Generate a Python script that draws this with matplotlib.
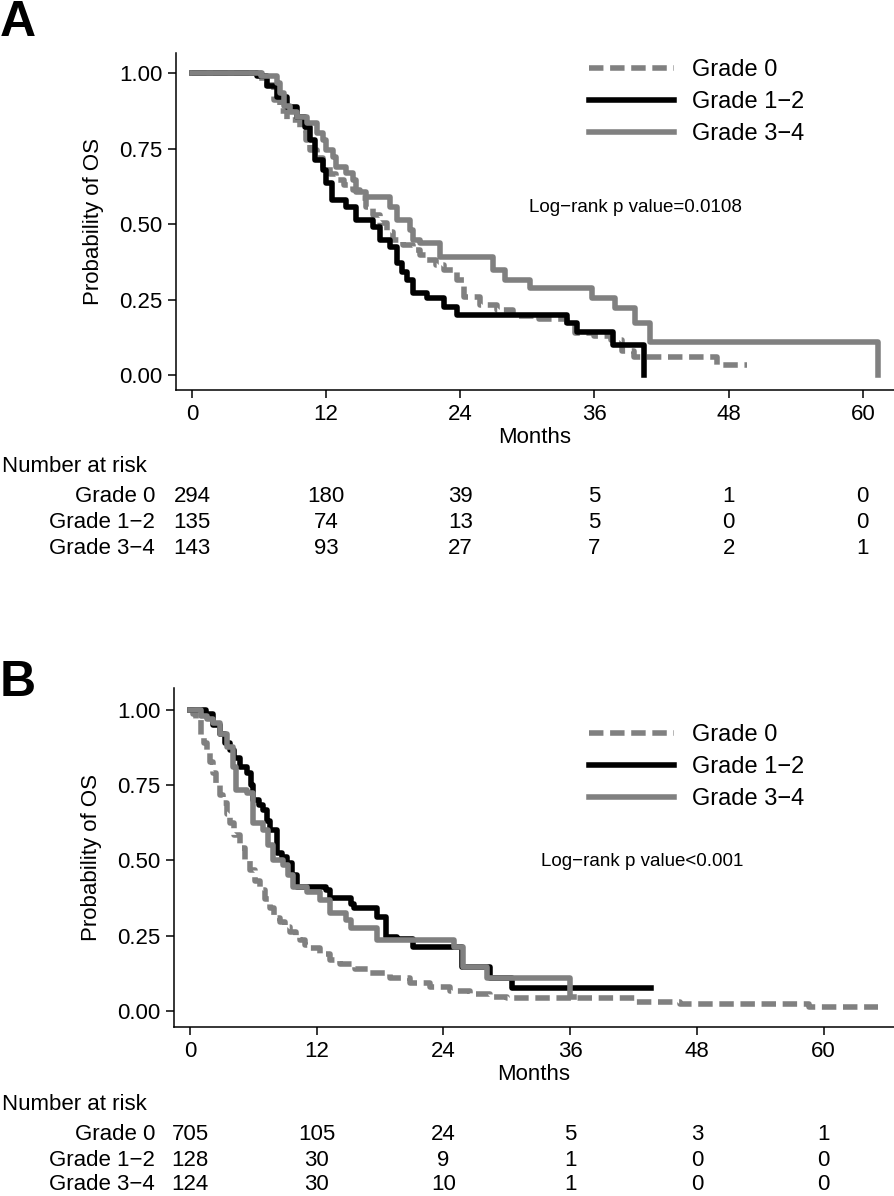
import matplotlib.pyplot as plt
from matplotlib.lines import Line2D
from matplotlib.transforms import blended_transform_factory

plt.rcParams['font.family'] = ['Liberation Sans', 'DejaVu Sans']

# ---- panel A: curves (months, survival) ----
a_g0_t = [0, 6.3, 7.3, 7.9, 8.5, 9.7, 10.2, 10.6, 11.2, 11.7, 12.3, 12.9, 13.6, 14.4, 15.0, 15.6, 16.2,
          16.8, 17.4, 18.0, 18.9, 19.8, 20.4, 21.0, 21.8, 22.5, 23.7, 24.3, 25.8, 27.3, 28.7, 31.0,
          33.5, 34.3, 36.0, 37.5, 38.5, 39.5, 47.0, 49.6]
a_g0_s = [1.0, 0.96, 0.911, 0.875, 0.845, 0.812, 0.78, 0.746, 0.72, 0.69, 0.665, 0.646, 0.63, 0.613,
          0.585, 0.558, 0.53, 0.503, 0.475, 0.447, 0.43, 0.414, 0.398, 0.381, 0.365, 0.348, 0.315, 0.26,
          0.232, 0.215, 0.196, 0.185, 0.165, 0.14, 0.13, 0.115, 0.08, 0.06, 0.033, 0.033]
a_g12_t = [0, 5.8, 6.7, 7.6, 8.5, 9.4, 10.1, 10.6, 11.0, 11.7, 12.0, 12.5, 13.8, 14.7, 16.2, 16.8, 17.7,
           18.3, 18.8, 19.2, 19.8, 21.0, 22.5, 23.7, 33.5, 34.4, 37.7, 40.4]
a_g12_s = [1.0, 0.99, 0.956, 0.922, 0.889, 0.856, 0.823, 0.779, 0.713, 0.68, 0.635, 0.58, 0.558, 0.514,
           0.49, 0.447, 0.425, 0.37, 0.34, 0.315, 0.271, 0.254, 0.226, 0.199, 0.171, 0.144, 0.099, 0.0]
a_g34_t = [0, 6.2, 7.6, 7.9, 8.2, 8.8, 9.4, 10.3, 11.2, 11.7, 12.0, 12.6, 12.9, 13.8, 14.4, 14.7, 15.6,
           17.7, 18.3, 19.5, 19.8, 20.4, 22.2, 23.4, 26.9, 28.0, 30.2, 35.75, 37.8, 39.6, 41.0, 61.4]
a_g34_s = [1.0, 0.99, 0.967, 0.934, 0.89, 0.873, 0.856, 0.834, 0.801, 0.78, 0.746, 0.724, 0.69, 0.668,
           0.646, 0.607, 0.59, 0.558, 0.514, 0.48, 0.447, 0.437, 0.392, 0.392, 0.348, 0.315, 0.287,
           0.254, 0.221, 0.171, 0.110, 0.0]

# ---- panel B ----
b_g0_t = [0, 0.3, 0.6, 1.0, 1.3, 1.6, 1.9, 2.2, 2.5, 2.8, 3.1, 3.5, 3.8, 4.2, 4.7, 5.2, 5.7, 6.2, 6.6,
          7.1, 7.6, 8.0, 8.5, 9.0, 9.5, 10.0, 10.4, 10.9, 11.4, 12.3, 13.3, 14.2, 15.6, 17.0, 18.9,
          20.8, 22.7, 24.6, 26.5, 28.4, 30.0, 42.1, 46.4, 58.6, 65.2]
b_g0_s = [1.0, 0.985, 0.967, 0.915, 0.89, 0.86, 0.827, 0.79, 0.755, 0.717, 0.69, 0.655, 0.625, 0.585,
          0.54, 0.50, 0.468, 0.43, 0.40, 0.37, 0.34, 0.31, 0.295, 0.278, 0.262, 0.248, 0.235, 0.22,
          0.208, 0.19, 0.169, 0.155, 0.139, 0.125, 0.109, 0.092, 0.079, 0.066, 0.056, 0.046, 0.041,
          0.030, 0.022, 0.011, 0.011]
b_g12_t = [0, 1.5, 2.2, 2.8, 3.3, 3.8, 4.2, 4.7, 5.4, 5.8, 6.0, 6.5, 6.9, 7.3, 7.6, 8.2, 8.7, 9.2, 9.7,
           10.1, 12.9, 13.3, 15.2, 15.5, 17.7, 18.6, 19.6, 21.1, 25.8, 28.4, 30.5, 43.7]
b_g12_s = [1.0, 0.985, 0.95, 0.92, 0.89, 0.867, 0.84, 0.811, 0.79, 0.75, 0.70, 0.685, 0.667, 0.63, 0.60,
           0.523, 0.51, 0.49, 0.45, 0.412, 0.401, 0.374, 0.355, 0.34, 0.313, 0.246, 0.24, 0.213, 0.147,
           0.11, 0.074, 0.074]
b_g34_t = [0, 1.0, 1.6, 2.2, 2.8, 3.5, 4.1, 4.4, 5.4, 6.0, 6.9, 7.4, 7.9, 8.8, 9.3, 9.8, 11.1, 12.3,
           13.3, 14.8, 15.2, 17.7, 25.0, 25.9, 28.1, 36.0, 36.4]
b_g34_s = [1.0, 0.98, 0.97, 0.956, 0.92, 0.878, 0.811, 0.734, 0.723, 0.623, 0.601, 0.55, 0.501, 0.485,
           0.45, 0.412, 0.396, 0.368, 0.324, 0.302, 0.274, 0.235, 0.213, 0.147, 0.108, 0.047, 0.047]

groups = ['Grade 0', 'Grade 1\u22122', 'Grade 3\u22124']
risk_times = [0, 12, 24, 36, 48, 60]
a_risk = [[294, 180, 39, 5, 1, 0],
          [135, 74, 13, 5, 0, 0],
          [143, 93, 27, 7, 2, 1]]
b_risk = [[705, 105, 24, 5, 3, 1],
          [128, 30, 9, 1, 0, 0],
          [124, 30, 10, 1, 0, 0]]

GRAY = '#808080'
LW = 4.0
styles = [dict(color=GRAY, ls=(0, (2.6, 1.2)), dash_capstyle='butt'),
          dict(color='black', ls='-'),
          dict(color=GRAY, ls='-')]

W, H = 894, 1196
fig = plt.figure(figsize=(W / 100, H / 100), dpi=100)


def fy(px):
    return 1 - px / H


def panel(rect, xlim, ylim, curves, risk, pval, pval_xy, legend_top, risk_rows, letter, letter_y):
    ax = fig.add_axes(rect)
    for (t, s), st in zip(curves, styles):
        ax.step(t, s, where='post', lw=LW, **st)
    ax.set_xlim(*xlim)
    ax.set_ylim(*ylim)
    ax.set_xticks(risk_times)
    ax.set_yticks([0, 0.25, 0.5, 0.75, 1.0])
    ax.set_yticklabels(['0.00', '0.25', '0.50', '0.75', '1.00'])
    for sp in ['top', 'right']:
        ax.spines[sp].set_visible(False)
    for sp in ['left', 'bottom']:
        ax.spines[sp].set_linewidth(1.1)
    ax.tick_params(direction='out', length=5.8, width=1.1, labelsize=16, pad=4)
    ax.set_xlabel('Months', fontsize=16, labelpad=2)
    ax.set_ylabel('Probability of OS', fontsize=16, labelpad=11)

    handles = [Line2D([], [], lw=LW, **st) for st in styles]
    ax.legend(handles, groups, loc='upper left', bbox_to_anchor=(589 / W, fy(legend_top)),
              bbox_transform=fig.transFigure, frameon=False, fontsize=17, handlelength=3.6,
              handletextpad=0.75, labelspacing=0.42, borderpad=0, borderaxespad=0)

    fig.text(pval_xy[0] / W, fy(pval_xy[1]), pval, fontsize=13.5, va='center', ha='left')

    tr = blended_transform_factory(ax.transData, fig.transFigure)
    fig.text(2 / W, fy(risk_rows[0]), 'Number at risk', fontsize=16, va='center', ha='left')
    for i, (g, row) in enumerate(zip(groups, risk)):
        y = fy(risk_rows[i + 1])
        fig.text(155 / W, y, g, fontsize=16, va='center', ha='right')
        for t, n in zip(risk_times, row):
            ax.text(t, y, str(n), transform=tr, fontsize=16, va='center', ha='center')

    fig.text(0, fy(letter_y), letter, fontsize=36, fontweight='bold', va='top', ha='left')
    return ax


panel([176 / W, fy(390), 718 / W, 337 / H], (-1.43, 62.79), (-0.0497, 1.067),
      [(a_g0_t, a_g0_s), (a_g12_t, a_g12_s), (a_g34_t, a_g34_s)], a_risk,
      'Log\u2212rank p value=0.0108', (529, 207), 59, [466, 497, 523, 549], 'A', 0)

panel([174 / W, fy(1027), 720 / W, 339 / H], (-1.515, 66.67), (-0.054, 1.073),
      [(b_g0_t, b_g0_s), (b_g12_t, b_g12_s), (b_g34_t, b_g34_s)], b_risk,
      'Log\u2212rank p value<0.001', (541, 861), 724, [1104, 1134, 1160, 1184], 'B', 660)

fig.savefig('out.png', dpi=100)
